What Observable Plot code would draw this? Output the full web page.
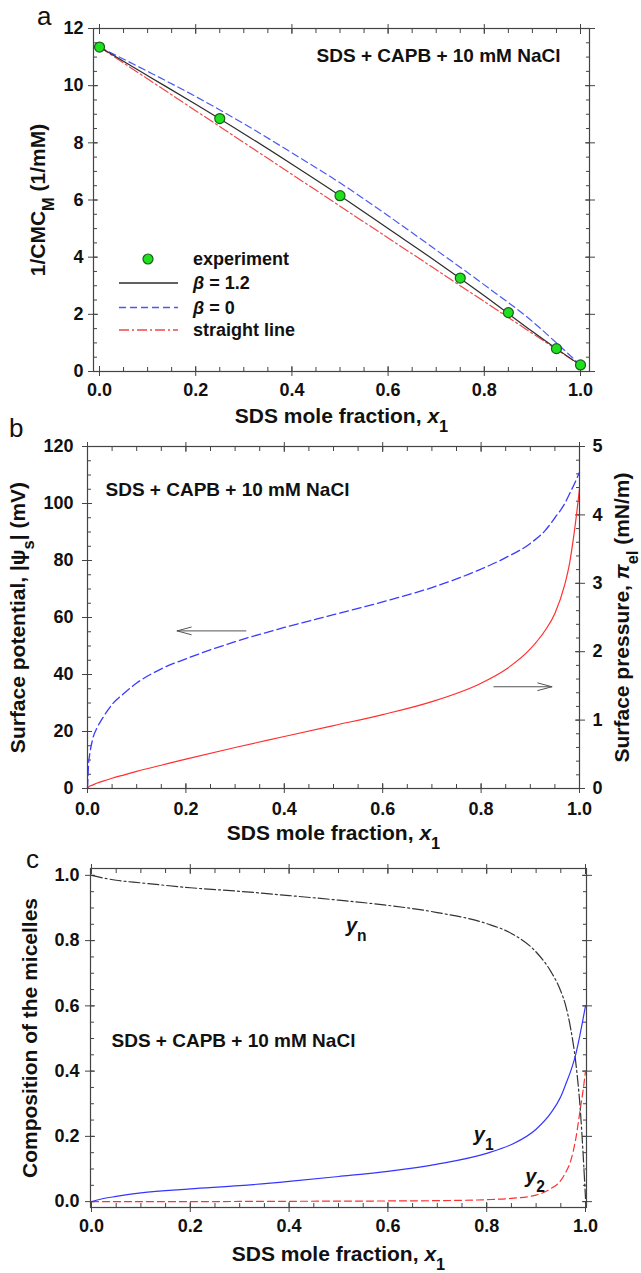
<!DOCTYPE html>
<html><head><meta charset="utf-8">
<script src="https://cdn.jsdelivr.net/npm/d3@7"></script>
<script src="https://cdn.jsdelivr.net/npm/@observablehq/plot@0.6"></script>
<style>
body{margin:0;background:#fff;}
#wrap{position:relative;width:641px;height:1273px;background:#fff;overflow:hidden;}
.panel{position:absolute;left:0;}
.panel svg{overflow:visible;background:transparent !important;}
</style></head><body><div id="wrap"></div>
<script>
// ---------------- Panel a data ----------------
const xModelA   = [0, 0.1, 0.2, 0.3, 0.4, 0.5, 0.6, 0.7, 0.8, 0.9, 0.95, 1.0];
const beta12A   = [11.35, 10.35, 9.35, 8.32, 7.25, 6.15, 5.0, 3.85, 2.65, 1.4, 0.8, 0.22];
const beta0A    = [11.35, 10.5, 9.62, 8.67, 7.65, 6.6, 5.45, 4.25, 3.03, 1.75, 1.0, 0.22];
const xStraightA = [0, 1];
const yStraightA = [11.35, 0.22];
const xExpA = [0, 0.25, 0.5, 0.75, 0.85, 0.95, 1.0];
const yExpA = [11.35, 8.85, 6.15, 3.27, 2.06, 0.80, 0.23];
const xTicks = [0, 0.2, 0.4, 0.6, 0.8, 1.0];
const yTicksA = [0, 2, 4, 6, 8, 10, 12];
const legendLabelsA = ["experiment", "β = 1.2", "β = 0", "straight line"];

// ---------------- Panel b data ----------------
const xB   = [0, 0.002, 0.005, 0.01, 0.02, 0.03, 0.05, 0.075, 0.1, 0.15, 0.2, 0.3, 0.4, 0.5, 0.6, 0.7, 0.8, 0.85, 0.9, 0.93, 0.95, 0.97, 0.98, 0.99, 1.0];
const psiB = [0, 8, 12.5, 17, 21.5, 24.5, 29.5, 33.5, 37, 42, 45.5, 51.5, 56.5, 61, 65.5, 70.5, 77, 81, 86, 90.5, 95, 100, 103.5, 107, 111];
const piB  = [0, 0.02, 0.035, 0.05, 0.08, 0.105, 0.15, 0.2, 0.25, 0.34, 0.43, 0.6, 0.76, 0.92, 1.08, 1.27, 1.54, 1.74, 2.04, 2.31, 2.56, 2.98, 3.3, 3.78, 4.38];
const yTicksB = [0, 20, 40, 60, 80, 100, 120];
const piTicksB = [0, 1, 2, 3, 4, 5];
const arrowsB = [{x1: 0.322, x2: 0.182, y: 55.3}, {x1: 0.826, x2: 0.944, y: 35.7}];

// ---------------- Panel c data ----------------
const xC  = [0, 0.02, 0.05, 0.1, 0.2, 0.3, 0.4, 0.5, 0.6, 0.7, 0.8, 0.85, 0.9, 0.93, 0.95, 0.96, 0.97, 0.98, 0.99, 0.995, 1.0];
const ynC = [1.0, 0.993, 0.985, 0.977, 0.962, 0.951, 0.938, 0.924, 0.908, 0.886, 0.852, 0.822, 0.765, 0.705, 0.645, 0.6, 0.53, 0.43, 0.27, 0.15, 0.01];
const y1C = [0, 0.008, 0.016, 0.027, 0.039, 0.049, 0.062, 0.077, 0.093, 0.115, 0.148, 0.175, 0.222, 0.272, 0.322, 0.36, 0.40, 0.45, 0.52, 0.56, 0.6];
const y2C = [0, 0, 0, 0, 0, 0.0005, 0.001, 0.0015, 0.002, 0.003, 0.006, 0.01, 0.02, 0.04, 0.065, 0.09, 0.125, 0.19, 0.29, 0.34, 0.4];
const yTicksC = [0, 0.2, 0.4, 0.6, 0.8, 1.0];
const curveLabelsC = [{x: 0.536, y: 0.845, t: "*y*_{n}"}, {x: 0.794, y: 0.205, t: "*y*_{1}"}, {x: 0.898, y: 0.078, t: "*y*_{2}"}];

const sysText = "SDS + CAPB + 10 mM NaCl";
const xTitle = "SDS mole fraction, *x*_{1}";
const yTitleA = "1/CMC_{M} (1/mM)";
const yTitleB = "Surface potential, |ψ_{s}| (mV)";
const yTitleB2 = "Surface pressure, *π*_{el} (mN/m)";
const yTitleC = "Composition of the micelles";
const TITLES = new Set([xTitle, yTitleA, yTitleB, yTitleB2, yTitleC]);

const FONT = '"Liberation Sans", Arial, Helvetica, sans-serif';
const AX = "#444";
const wrap = document.getElementById("wrap");

function richify(svg) {
  svg.querySelectorAll("text").forEach(t => {
    const s = t.textContent;
    if (TITLES.has(s)) { t.setAttribute("font-size", 21); t.style.fontSize = "21px"; }
    if (!/_\{|\*/.test(s)) return;
    if (t.querySelector("tspan")) return;
    t.textContent = "";
    const parts = s.split(/(_\{[^}]*\}|\*[^*]*\*)/g).filter(p => p !== "");
    for (const p of parts) {
      const ts = document.createElementNS("http://www.w3.org/2000/svg", "tspan");
      if (p.startsWith("_{")) { ts.textContent = p.slice(2, -1); ts.setAttribute("baseline-shift", "sub"); ts.setAttribute("font-size", "78%"); }
      else if (p.startsWith("*")) { ts.textContent = p.slice(1, -1); ts.setAttribute("font-style", "italic"); }
      else ts.textContent = p;
      t.appendChild(ts);
    }
  });
}

const blank = () => "";
function decoX(major, minor) {
  const o = {stroke: AX, fill: "none", label: null, tickFormat: blank};
  return [
    Plot.axisX(major, {...o, anchor: "bottom", tickSize: 10, dy: -5}),
    Plot.axisX(minor, {...o, anchor: "bottom", tickSize: 4, dy: -4}),
    Plot.axisX(major, {...o, anchor: "top", tickSize: 10, dy: 5}),
    Plot.axisX(minor, {...o, anchor: "top", tickSize: 4, dy: 4})
  ];
}
function decoY(major, minor, sides) {
  const o = {stroke: AX, fill: "none", label: null, tickFormat: blank};
  const m = [];
  if (sides.includes("left")) m.push(
    Plot.axisY(major, {...o, anchor: "left", tickSize: 10, dx: 5}),
    Plot.axisY(minor, {...o, anchor: "left", tickSize: 4, dx: 4}));
  if (sides.includes("right")) m.push(
    Plot.axisY(major, {...o, anchor: "right", tickSize: 10, dx: -5}),
    Plot.axisY(minor, {...o, anchor: "right", tickSize: 4, dx: -4}));
  return m;
}
function place(svg, top) {
  richify(svg);
  const d = document.createElement("div");
  d.className = "panel"; d.style.top = top + "px";
  d.appendChild(svg); wrap.appendChild(d);
}
const baseStyle = {fontFamily: FONT, fontSize: "18px", fontWeight: "bold", color: "#111", background: "transparent", overflow: "visible"};
const xMinor = d3.range(0, 1.0001, 0.05);
const SYS = {fontSize: 19, fontWeight: "bold", fill: "#111", lineAnchor: "middle"};

// ---------------- Panel a ----------------
const lineA = (ys) => xModelA.map((x, i) => ({x, y: ys[i]}));
const plotA = Plot.plot({
  width: 641, height: 432,
  marginTop: 28, marginBottom: 61, marginLeft: 93, marginRight: 52,
  style: baseStyle,
  x: {domain: [-0.0125, 1.0187]},
  y: {domain: [0, 12]},
  marks: [
    ...decoX(xTicks, xMinor),
    ...decoY(yTicksA, d3.range(0, 12.001, 0.5), ["left", "right"]),
    Plot.axisX(xTicks, {anchor: "bottom", tickSize: 0, tickPadding: 12, tickFormat: d3.format(".1f"),
      label: xTitle, labelAnchor: "center", labelOffset: 51, labelArrow: "none"}),
    Plot.axisY(yTicksA, {anchor: "left", tickSize: 0, tickPadding: 10, tickFormat: d3.format("d"),
      label: yTitleA, labelAnchor: "center", labelOffset: 63, labelArrow: "none"}),
    Plot.line(xStraightA.map((x, i) => ({x, y: yStraightA[i]})), {x: "x", y: "y", stroke: "#f04848", strokeWidth: 1.2, strokeDasharray: "10,3,2,3"}),
    Plot.line(lineA(beta0A), {x: "x", y: "y", stroke: "#4a5af0", strokeWidth: 1.2, strokeDasharray: "7,4", curve: "monotone-x"}),
    Plot.line(lineA(beta12A), {x: "x", y: "y", stroke: "#2b2b2b", strokeWidth: 1.2, curve: "monotone-x"}),
    Plot.dot(xExpA.map((x, i) => ({x, y: yExpA[i]})), {x: "x", y: "y", r: 5, fill: "#1ee01e", stroke: "#1b5e1b", strokeWidth: 1.2}),
    Plot.text([sysText], {...SYS, frameAnchor: "top-right", dx: -29, dy: 27, textAnchor: "end"}),
    Plot.frame({stroke: AX, strokeWidth: 1.2})
  ]
});
place(plotA, 0);

// ---------------- Panel b ----------------
const K = 120 / 5; // mV per mN/m on the shared vertical scale
const plotB = Plot.plot({
  width: 641, height: 413,
  marginTop: 14, marginBottom: 57, marginLeft: 87, marginRight: 62,
  style: baseStyle,
  x: {domain: [0, 1]},
  y: {domain: [0, 120]},
  marks: [
    ...decoX(xTicks, xMinor),
    ...decoY(yTicksB, d3.range(0, 120.001, 5), ["left"]),
    ...decoY(piTicksB.map(v => v * K), d3.range(0, 5.0001, 0.2).map(v => v * K), ["right"]),
    Plot.axisX(xTicks, {anchor: "bottom", tickSize: 0, tickPadding: 14, tickFormat: d3.format(".1f"),
      label: xTitle, labelAnchor: "center", labelOffset: 51, labelArrow: "none"}),
    Plot.axisY(yTicksB, {anchor: "left", tickSize: 0, tickPadding: 14, tickFormat: d3.format("d"),
      label: yTitleB, labelAnchor: "center", labelOffset: 77, labelArrow: "none"}),
    Plot.axisY(piTicksB.map(v => v * K), {anchor: "right", tickSize: 0, tickPadding: 13, tickFormat: d => d3.format("d")(d / K),
      label: yTitleB2, labelAnchor: "center", labelOffset: 49, labelArrow: "none"}),
    Plot.line(xB.map((x, i) => ({x, y: psiB[i]})), {x: "x", y: "y", stroke: "#3b3bff", strokeWidth: 1.3, strokeDasharray: "9,4", curve: "monotone-x"}),
    Plot.line(xB.map((x, i) => ({x, y: piB[i] * K})), {x: "x", y: "y", stroke: "#ff3030", strokeWidth: 1.2, curve: "monotone-x"}),
    Plot.arrow(arrowsB, {x1: "x1", x2: "x2", y1: "y", y2: "y", stroke: "#555", strokeWidth: 1, headLength: 22, headAngle: 30}),
    Plot.text([sysText], {...SYS, frameAnchor: "top-left", dx: 18, dy: 43, textAnchor: "start"}),
    Plot.frame({stroke: AX, strokeWidth: 1.2})
  ]
});
place(plotB, 432);

// ---------------- Panel c ----------------
const plotC = Plot.plot({
  width: 641, height: 428,
  marginTop: 23, marginBottom: 66, marginLeft: 90, marginRight: 55,
  style: baseStyle,
  x: {domain: [-0.002, 1.002]},
  y: {domain: [-0.018, 1.021]},
  marks: [
    ...decoX(xTicks, xMinor),
    ...decoY(yTicksC, d3.range(0, 1.0001, 0.05), ["left", "right"]),
    Plot.axisX(xTicks, {anchor: "bottom", tickSize: 0, tickPadding: 12, tickFormat: d3.format(".1f"),
      label: xTitle, labelAnchor: "center", labelOffset: 53, labelArrow: "none"}),
    Plot.axisY(yTicksC, {anchor: "left", tickSize: 0, tickPadding: 11, tickFormat: d3.format(".1f"),
      label: yTitleC, labelAnchor: "center", labelOffset: 68, labelArrow: "none"}),
    Plot.line(xC.map((x, i) => ({x, y: y2C[i]})), {x: "x", y: "y", stroke: "#ff3030", strokeWidth: 1.2, strokeDasharray: "7,4", curve: "monotone-x"}),
    Plot.line(xC.map((x, i) => ({x, y: ynC[i]})), {x: "x", y: "y", stroke: "#333", strokeWidth: 1.2, strokeDasharray: "11,3,2,3", curve: "monotone-x"}),
    Plot.line(xC.map((x, i) => ({x, y: y1C[i]})), {x: "x", y: "y", stroke: "#3535ff", strokeWidth: 1.2, curve: "monotone-x"}),
    Plot.text(curveLabelsC, {x: "x", y: "y", text: "t", fontSize: 20, fontWeight: "bold", fill: "#111"}),
    Plot.text([sysText], {...SYS, frameAnchor: "top-left", dx: 21, dy: 172, textAnchor: "start"}),
    Plot.frame({stroke: AX, strokeWidth: 1.2})
  ]
});
place(plotC, 845);

// ---------------- Overlay: panel letters and legend of panel a ----------------
const ov = d3.select(wrap).append("svg")
  .attr("width", 641).attr("height", 1273)
  .style("position", "absolute").style("left", "0px").style("top", "0px")
  .style("pointer-events", "none")
  .attr("font-family", FONT);
[["a", 37, 25], ["b", 9, 437], ["c", 26, 868]].forEach(([s, x, y]) =>
  ov.append("text").attr("x", x).attr("y", y).attr("font-size", 26).attr("fill", "#111").text(s));

const lg = ov.append("g").attr("font-size", 18).attr("font-weight", "bold").attr("fill", "#111");
const rowY = [259, 283, 307.5, 330];
const styles = [
  null,
  {stroke: "#2b2b2b", dash: null},
  {stroke: "#4a5af0", dash: "7,4"},
  {stroke: "#f04848", dash: "10,3,2,3"}
];
legendLabelsA.forEach((lab, i) => {
  const y = rowY[i];
  if (i === 0) {
    lg.append("circle").attr("cx", 148).attr("cy", y).attr("r", 5).attr("fill", "#1ee01e").attr("stroke", "#1b5e1b").attr("stroke-width", 1.2);
  } else {
    lg.append("line").attr("x1", 119).attr("x2", 178).attr("y1", y).attr("y2", y)
      .attr("stroke", styles[i].stroke).attr("stroke-width", 1.3)
      .attr("stroke-dasharray", styles[i].dash);
  }
  const t = lg.append("text").attr("x", 193).attr("y", y).attr("dy", "0.35em");
  if (lab.startsWith("β")) {
    t.append("tspan").attr("font-style", "italic").text("β");
    t.append("tspan").text(lab.slice(1));
  } else t.text(lab);
});
</script></body></html>
